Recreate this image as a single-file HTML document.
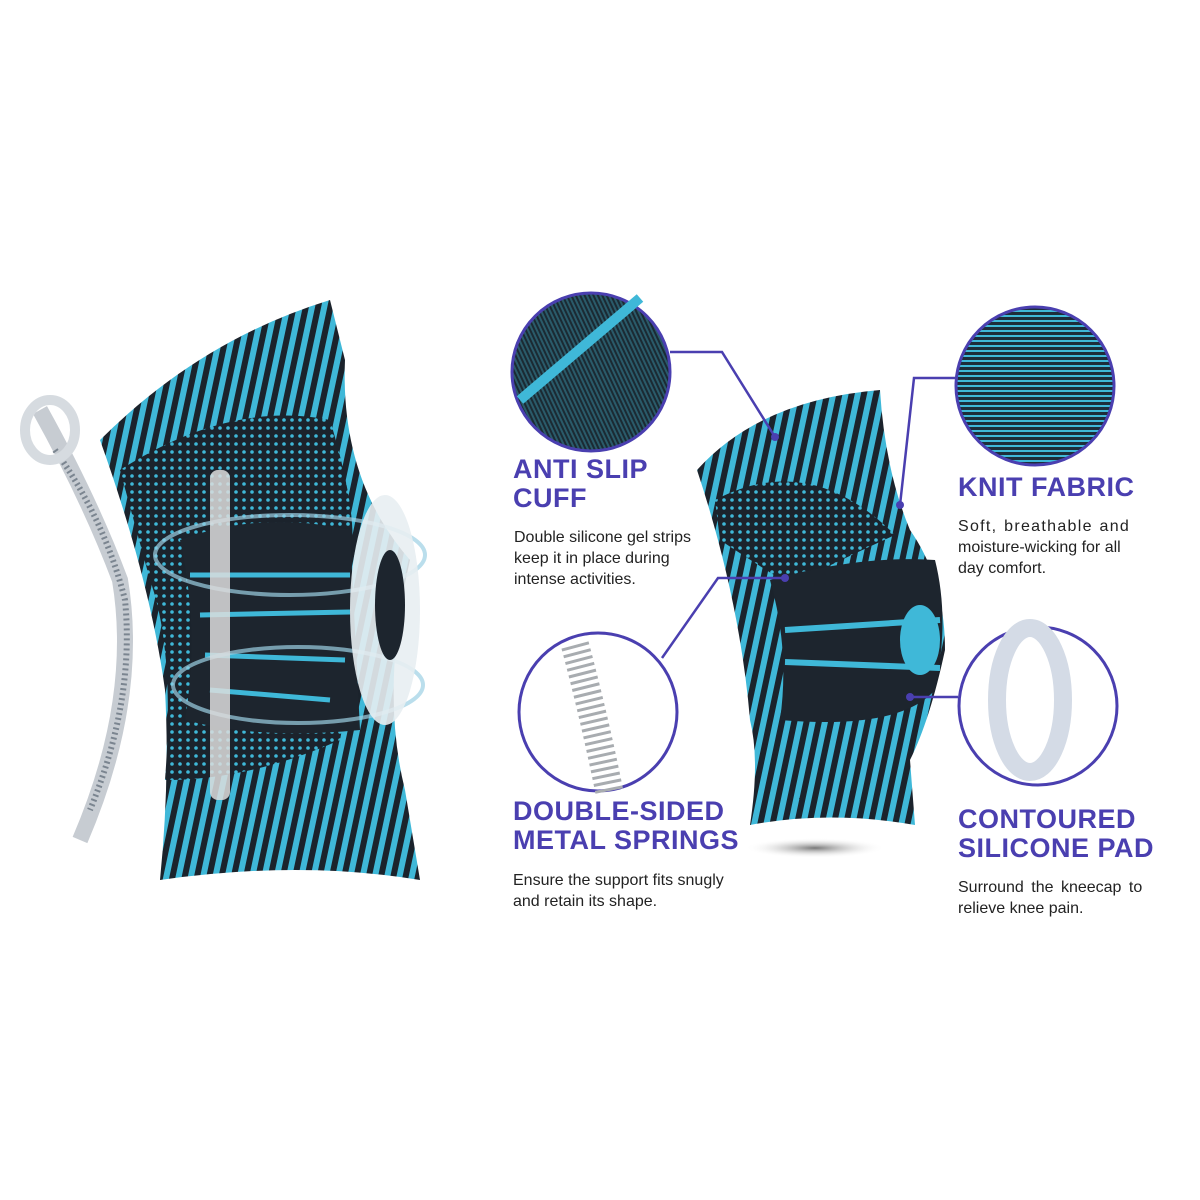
<!DOCTYPE html>
<html><head><meta charset="utf-8"><style>
body{margin:0;background:#fff;width:1200px;height:1200px;overflow:hidden;font-family:"Liberation Sans",sans-serif}
.t{position:absolute;color:#4a3fb0;font-weight:bold;font-size:27px;line-height:29px;letter-spacing:0.5px}
.d{position:absolute;color:#222;font-size:16px;line-height:21px}
.d span{display:block;white-space:nowrap}
</style></head><body>
<svg width="1200" height="1200" style="position:absolute;left:0;top:0">
<defs>
<pattern id="st" width="12" height="12" patternUnits="userSpaceOnUse" patternTransform="rotate(12)"><rect width="12" height="12" fill="#3fb8d8"/><rect width="6" height="12" fill="#1b232c"/></pattern>
<pattern id="dots" width="8" height="8" patternUnits="userSpaceOnUse"><rect width="8" height="8" fill="#1b232c"/><circle cx="4" cy="4" r="1.8" fill="#3fb8d8"/></pattern>
<pattern id="fine" width="4" height="4" patternUnits="userSpaceOnUse" patternTransform="rotate(-25)"><rect width="4" height="4" fill="#2a5b6a"/><rect width="2" height="4" fill="#1b2a33"/></pattern>
<pattern id="knit" width="5" height="5" patternUnits="userSpaceOnUse"><rect width="5" height="5" fill="#1d2d3a"/><rect width="5" height="2" fill="#3fb8d8"/></pattern>
<radialGradient id="sh"><stop offset="0" stop-color="#777"/><stop offset="1" stop-color="#fff" stop-opacity="0"/></radialGradient>
</defs>
<path d="M100,440 Q200,340 330,300 L345,360 Q340,480 410,560 Q380,690 405,790 L420,880 Q300,860 160,880 Q170,780 165,690 Q150,580 100,440Z" fill="url(#st)"/>
<path d="M120,470 Q230,400 330,420 Q360,520 350,560 Q360,640 340,740 Q250,780 165,780 Q175,650 150,580Z" fill="url(#dots)"/>
<path d="M180,540 Q260,510 350,530 L360,730 Q260,740 185,720 Q200,630 180,540Z" fill="#1d252e"/>
<path d="M190,575 L350,575 M200,615 L350,612 M205,655 L345,660 M210,690 L330,700" stroke="#3fb8d8" stroke-width="5" fill="none"/>
<ellipse cx="290" cy="555" rx="135" ry="40" fill="none" stroke="#9dd0e4" stroke-width="4" opacity=".7"/>
<ellipse cx="298" cy="685" rx="125" ry="38" fill="none" stroke="#9dd0e4" stroke-width="4" opacity=".7"/>
<ellipse cx="385" cy="610" rx="35" ry="115" fill="#e8eef2" opacity=".9"/>
<ellipse cx="390" cy="605" rx="15" ry="55" fill="#1d252e"/>
<rect x="210" y="470" width="20" height="330" rx="8" fill="#ddd" opacity=".85"/>
<path d="M40,410 Q90,500 120,580 Q140,700 80,840" stroke="#c7ccd2" stroke-width="16" fill="none"/>
<path d="M55,450 Q105,520 125,600 Q135,700 90,810" stroke="#7b8590" stroke-width="6" stroke-dasharray="2 3" fill="none"/>
<ellipse cx="50" cy="430" rx="25" ry="30" fill="none" stroke="#d6dbe0" stroke-width="10"/>
<ellipse cx="815" cy="848" rx="70" ry="10" fill="url(#sh)"/>
<path d="M697,470 Q760,400 880,390 Q885,470 910,530 Q945,580 945,650 Q930,720 910,760 L915,825 Q830,810 750,825 Q760,760 750,720 Q740,600 697,470Z" fill="url(#st)"/>
<path d="M715,500 Q810,450 895,535 Q840,560 790,585 Q750,560 720,540Z" fill="url(#dots)"/>
<path d="M770,580 Q860,555 935,560 Q950,620 935,690 Q900,730 780,720 Q790,650 770,580Z" fill="#1d252e"/>
<path d="M785,630 L940,620 M785,662 L940,668" stroke="#3fb8d8" stroke-width="6" fill="none"/>
<ellipse cx="920" cy="640" rx="20" ry="35" fill="#3fb8d8"/>
<circle cx="591" cy="372" r="79" fill="url(#fine)" stroke="#4a3fb0" stroke-width="3"/>
<path d="M520,400 L640,298" stroke="#3fb8d8" stroke-width="10"/>
<circle cx="1035" cy="386" r="79" fill="url(#knit)" stroke="#4a3fb0" stroke-width="3"/>
<circle cx="598" cy="712" r="79" fill="#fff" stroke="#4a3fb0" stroke-width="3"/>
<path d="M575,645 Q595,720 610,795" stroke="#a8acb0" stroke-width="28" stroke-dasharray="3 4" fill="none"/>
<circle cx="1038" cy="706" r="79" fill="#fff" stroke="#4a3fb0" stroke-width="3"/>
<ellipse cx="1030" cy="700" rx="33" ry="72" fill="none" stroke="#d4dbe6" stroke-width="18"/>
<g stroke="#4a3fb0" stroke-width="2.5" fill="none">
<path d="M670,352 L722,352 L775,437"/>
<path d="M956,378 L914,378 L900,505"/>
<path d="M662,658 L718,578 L785,578"/>
<path d="M910,697 L958,697"/>
</g>
<g fill="#4a3fb0"><circle cx="775" cy="437" r="4"/><circle cx="900" cy="505" r="4"/><circle cx="785" cy="578" r="4"/><circle cx="910" cy="697" r="4"/></g>
</svg>
<div class="t" style="left:513px;top:455px">ANTI SLIP<br>CUFF</div>
<div class="d" style="left:514px;top:527px">Double silicone gel strips<br>keep it in place during<br>intense activities.</div>
<div class="t" style="left:958px;top:473px">KNIT FABRIC</div>
<div class="d" style="left:958px;top:516px"><span style="letter-spacing:1.3px;word-spacing:1px">Soft, breathable and</span><span>moisture-wicking for all</span><span>day comfort.</span></div>
<div class="t" style="left:513px;top:797px">DOUBLE-SIDED<br>METAL SPRINGS</div>
<div class="d" style="left:513px;top:870px">Ensure the support fits snugly<br>and retain its shape.</div>
<div class="t" style="left:958px;top:805px">CONTOURED<br>SILICONE PAD</div>
<div class="d" style="left:958px;top:877px"><span style="word-spacing:3px">Surround the kneecap to</span><span>relieve knee pain.</span></div>
</body></html>
